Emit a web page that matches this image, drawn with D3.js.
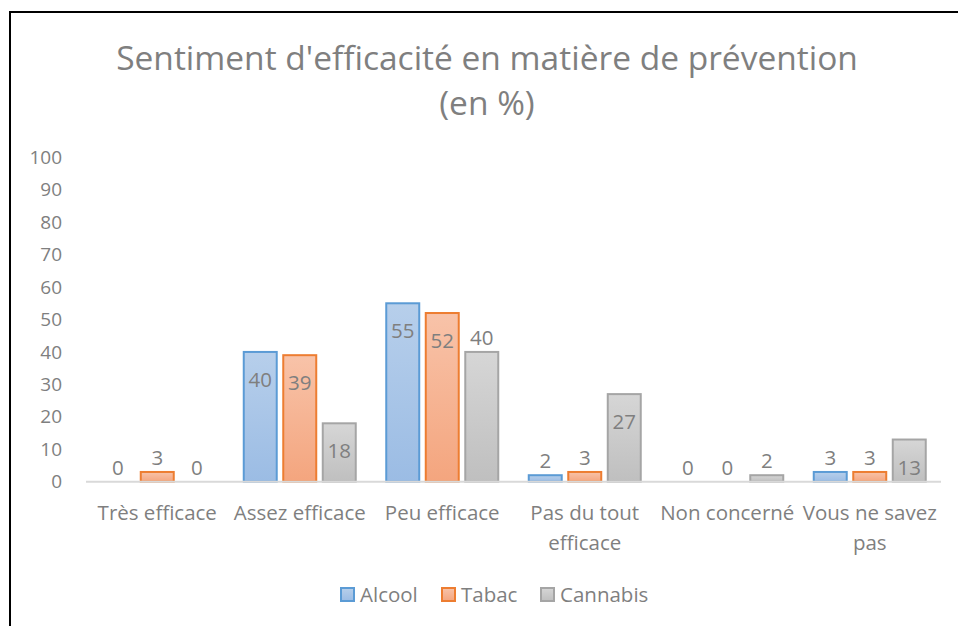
<!DOCTYPE html>
<html>
<head>
<meta charset="utf-8">
<script src="https://cdn.jsdelivr.net/npm/d3@7"></script>
<style>
  body { margin: 0; background: #fff; }
  text { font-family: "Open Sans", sans-serif; fill: #7f7f7f; }
</style>
</head>
<body>
<svg id="chart" width="958" height="626"></svg>
<script>
// categories and series
var categories = ["Très efficace", "Assez efficace", "Peu efficace", "Pas du tout efficace", "Non concerné", "Vous ne savez pas"]
var catLines = [["Très efficace"], ["Assez efficace"], ["Peu efficace"], ["Pas du tout", "efficace"], ["Non concerné"], ["Vous ne savez", "pas"]]
var seriesNames = ["Alcool", "Tabac", "Cannabis"]
var alcool = [0, 40, 55, 2, 0, 3]
var tabac = [3, 39, 52, 3, 0, 3]
var cannabis = [0, 18, 40, 27, 2, 13]
var yTicks = [0, 10, 20, 30, 40, 50, 60, 70, 80, 90, 100]

var series = [alcool, tabac, cannabis]

var fills = [["#b7cfeb", "#9bbce4"], ["#f8c3a9", "#f4a57e"], ["#d6d6d6", "#bfbfbf"]]
var strokes = ["#5b9bd5", "#ed7d31", "#a5a5a5"]

var svg = d3.select("#chart")

// frame (only top and left visible)
svg.append("rect")
  .attr("x", 10).attr("y", 12)
  .attr("width", 990).attr("height", 700)
  .attr("fill", "none").attr("stroke", "#000").attr("stroke-width", 2)

// gradients
var defs = svg.append("defs")
fills.forEach(function(f, i) {
  var g = defs.append("linearGradient").attr("id", "grad" + i)
    .attr("x1", 0).attr("y1", 0).attr("x2", 0).attr("y2", 1)
  g.append("stop").attr("offset", "0%").attr("stop-color", f[0])
  g.append("stop").attr("offset", "100%").attr("stop-color", f[1])
})

// title
var title = svg.append("text")
  .attr("text-anchor", "middle")
  .style("font-size", "33.5px")
title.append("tspan").attr("x", 487).attr("y", 70).text("Sentiment d'efficacité en matière de prévention")
title.append("tspan").attr("x", 487).attr("y", 115).text("(en %)")

var plotLeft = 86, plotRight = 941, plotTop = 157.3, plotBottom = 481.7

var x0 = d3.scaleBand().domain(categories).range([plotLeft, plotRight])
var x1 = d3.scaleBand().domain(seriesNames).range([-56, 56]).paddingInner(0.165).paddingOuter(0)
var y = d3.scaleLinear().domain([0, 100]).range([plotBottom, plotTop])

function barCenter(i, s) {
  return x0(categories[i]) + x0.bandwidth() / 2 + x1(seriesNames[s]) + x1.bandwidth() / 2
}

// y tick labels
svg.selectAll(".ytick")
  .data(yTicks)
  .enter()
  .append("text")
    .attr("class", "ytick")
    .attr("x", 62)
    .attr("y", function(d) { return y(d) })
    .attr("dy", "0.35em")
    .attr("text-anchor", "end")
    .style("font-size", "19px")
    .text(function(d) { return d })

// bars
series.forEach(function(vals, s) {
  svg.append("g")
    .selectAll("rect")
    .data(vals.map(function(v, i) { return {v: v, i: i} }).filter(function(d) { return d.v > 0 }))
    .enter()
    .append("rect")
      .attr("x", function(d) { return barCenter(d.i, s) - x1.bandwidth() / 2 })
      .attr("y", function(d) { return y(d.v) })
      .attr("width", x1.bandwidth())
      .attr("height", function(d) { return y(0) - y(d.v) })
      .attr("fill", "url(#grad" + s + ")")
      .attr("stroke", strokes[s])
      .attr("stroke-width", 2)
})

// baseline
svg.append("line")
  .attr("x1", plotLeft).attr("x2", plotRight)
  .attr("y1", y(0)).attr("y2", y(0))
  .attr("stroke", "#d9d9d9").attr("stroke-width", 2)

// value labels: inside end when the bar is tall enough
series.forEach(function(vals, s) {
  svg.append("g")
    .selectAll("text")
    .data(vals)
    .enter()
    .append("text")
      .attr("x", function(d, i) { return barCenter(i, s) })
      .attr("y", function(d, i) {
        var inside = d >= 10 && !(s == 2 && i == 2)
        return inside ? y(d) + 28 : y(d) - 14
      })
      .attr("dy", "0.35em")
      .attr("text-anchor", "middle")
      .style("font-size", "20.5px")
      .text(function(d) { return d })
})

// category labels
categories.forEach(function(c, i) {
  var t = svg.append("text")
    .attr("text-anchor", "middle")
    .style("font-size", "20.5px")
  catLines[i].forEach(function(line, k) {
    t.append("tspan")
      .attr("x", x0(c) + x0.bandwidth() / 2)
      .attr("y", 520 + k * 30)
      .text(line)
  })
})

// legend
var legendX = [340, 441, 540]
seriesNames.forEach(function(n, s) {
  svg.append("rect")
    .attr("x", legendX[s] + 1).attr("y", 588)
    .attr("width", 13).attr("height", 13)
    .attr("fill", "url(#grad" + s + ")")
    .attr("stroke", strokes[s]).attr("stroke-width", 2)
  svg.append("text")
    .attr("x", legendX[s] + 20)
    .attr("y", 595)
    .attr("dy", "0.35em")
    .style("font-size", "20.5px")
    .text(n)
})
</script>
</body>
</html>
